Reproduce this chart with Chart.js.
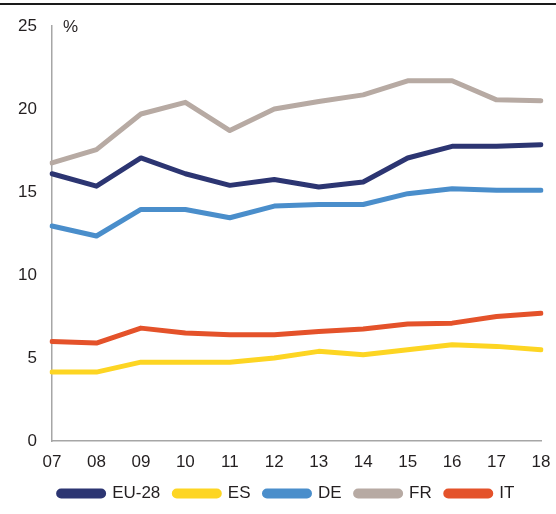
<!DOCTYPE html>
<html>
<head>
<meta charset="utf-8">
<script src="https://cdn.jsdelivr.net/npm/chart.js@4"></script>
<style>
  html, body { margin: 0; padding: 0; background: #fff; }
</style>
</head>
<body>
<canvas id="chart" width="556" height="514"></canvas>
<script>
// years on the x axis
const years = ["07", "08", "09", "10", "11", "12", "13", "14", "15", "16", "17", "18"];

// series values (%)
const eu28 = [16.1, 15.35, 17.05, 16.1, 15.4, 15.75, 15.3, 15.6, 17.05, 17.75, 17.75, 17.85];
const es   = [4.15, 4.15, 4.75, 4.75, 4.75, 5.0, 5.4, 5.2, 5.5, 5.8, 5.7, 5.5];
const de   = [12.95, 12.35, 13.95, 13.95, 13.45, 14.15, 14.25, 14.25, 14.9, 15.2, 15.1, 15.1];
const fr   = [16.75, 17.55, 19.7, 20.4, 18.7, 20.0, 20.45, 20.85, 21.7, 21.7, 20.55, 20.5];
const it   = [6.0, 5.9, 6.8, 6.5, 6.4, 6.4, 6.6, 6.75, 7.05, 7.1, 7.5, 7.7];

const yTicks = [0, 5, 10, 15, 20, 25];

const textColor = "#231f20";
const fontFamily = "'Liberation Sans', Arial, sans-serif";

function line(label, data, color) {
    return {
        label: label,
        data: data,
        borderColor: color,
        backgroundColor: color,
        borderWidth: 5,
        borderCapStyle: "round",
        borderJoinStyle: "round",
        pointRadius: 0,
        tension: 0,
        fill: false
    };
}

// draws the "%" unit and the thin rule on top, nudges the legend right
const extras = {
    id: "extras",
    afterLayout(chart) {
        chart.legend.left += 16;
        chart.legend.right += 16;
    },
    afterDraw(chart) {
        const ctx = chart.ctx;
        const area = chart.chartArea;
        ctx.save();
        ctx.strokeStyle = "#1a1a1a";
        ctx.lineWidth = 2;
        ctx.beginPath();
        ctx.moveTo(0, 4);
        ctx.lineTo(chart.width, 4);
        ctx.stroke();
        ctx.fillStyle = textColor;
        ctx.font = "17px " + fontFamily;
        ctx.textBaseline = "middle";
        ctx.fillText("%", area.left + 11, area.top + 1);
        ctx.restore();
    }
};

new Chart(document.getElementById("chart").getContext("2d"), {
    type: "line",
    data: {
        labels: years,
        datasets: [
            line("EU-28", eu28, "#2c3572"),
            line("ES", es, "#fdd523"),
            line("DE", de, "#4a8ecb"),
            line("FR", fr, "#b7aaa3"),
            line("IT", it, "#e4522a")
        ]
    },
    options: {
        responsive: false,
        animation: false,
        layout: { padding: { top: 26, right: 15, left: 0, bottom: 2 } },
        plugins: {
            tooltip: { enabled: false },
            legend: {
                position: "bottom",
                labels: {
                    color: textColor,
                    font: { family: fontFamily, size: 17 },
                    boxWidth: 45,
                    boxHeight: 5,
                    useBorderRadius: true,
                    borderRadius: 2.5,
                    padding: 14
                }
            }
        },
        scales: {
            x: {
                grid: { display: false, drawTicks: false },
                border: { display: true, color: "#a6a6a6", width: 1.5 },
                offset: false,
                ticks: {
                    color: textColor,
                    font: { family: fontFamily, size: 17 },
                    padding: 11,
                    maxRotation: 0,
                    autoSkip: false
                },
                afterFit(scale) {
                    scale.height = 30;
                    scale.paddingLeft = 0;
                    scale.paddingRight = 0;
                }
            },
            y: {
                min: 0,
                max: 25,
                afterBuildTicks(scale) { scale.ticks = yTicks.map(v => ({ value: v })); },
                grid: { display: false, drawTicks: false },
                border: { display: true, color: "#a6a6a6", width: 1.5 },
                ticks: {
                    color: textColor,
                    font: { family: fontFamily, size: 17 },
                    padding: 15
                },
                afterFit(scale) { scale.width = 52; }
            }
        }
    },
    plugins: [extras]
});
</script>
</body>
</html>
